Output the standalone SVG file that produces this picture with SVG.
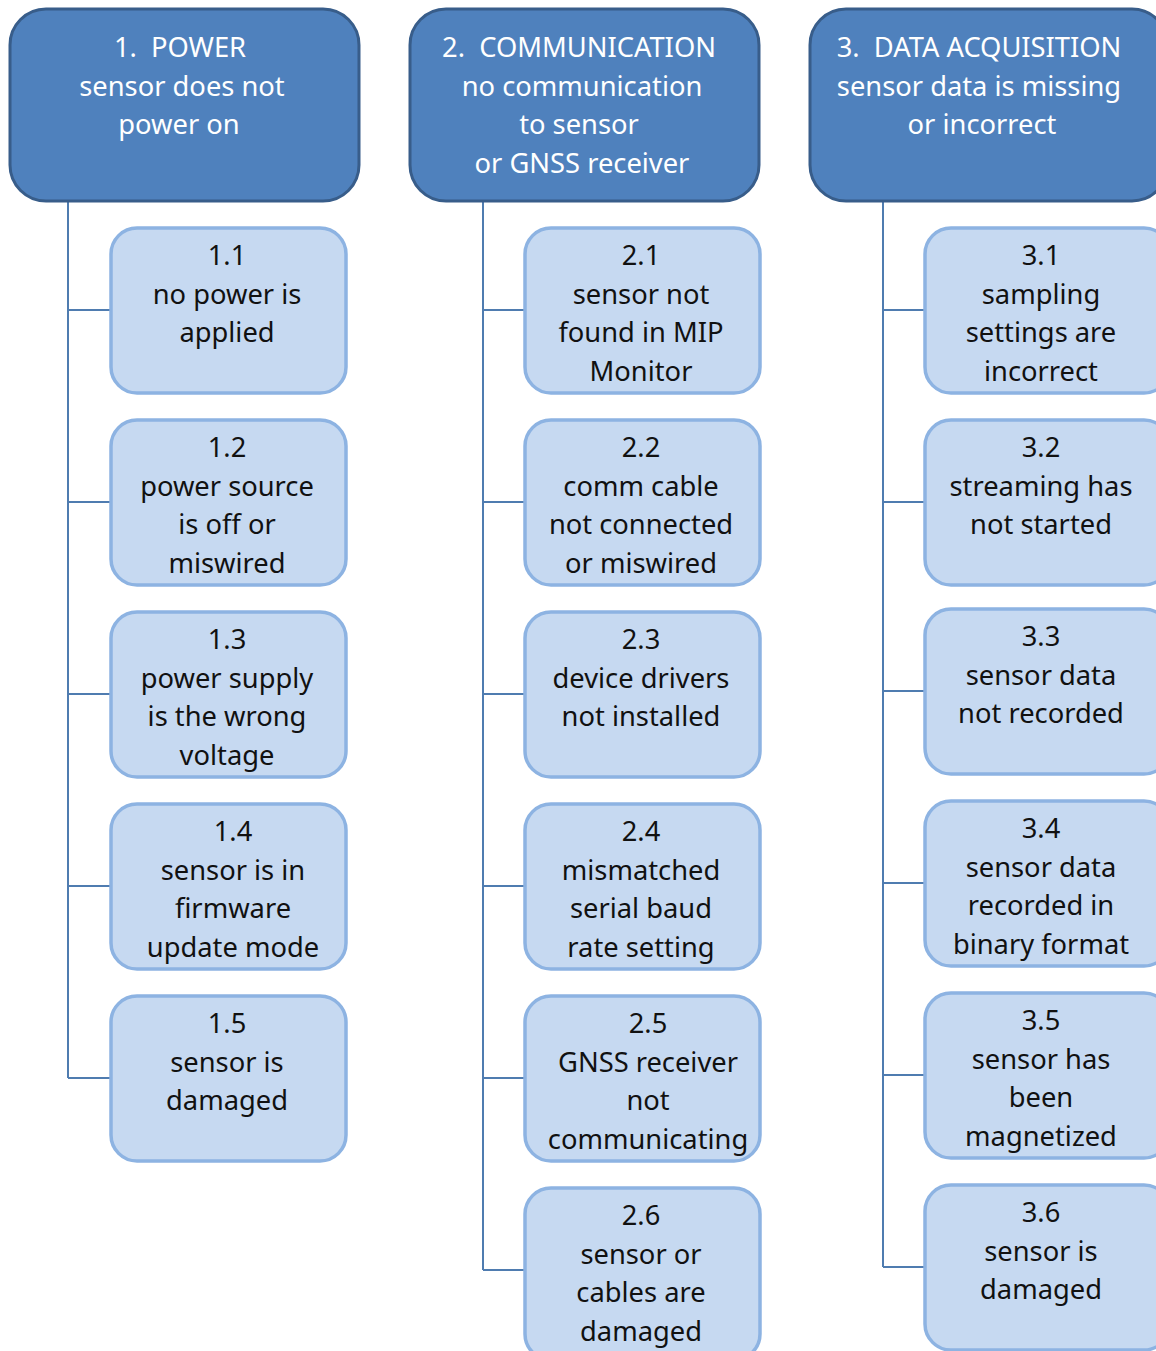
<svg xmlns="http://www.w3.org/2000/svg" width="1156" height="1351" viewBox="0 0 1156 1351">
<style>
.hdr{fill:#4F81BD;stroke:#385D8A;stroke-width:3}
.box{fill:#C6D9F1;stroke:#8DB3E2;stroke-width:3.5}
.ht{font-family:"Noto Sans","Open Sans",sans-serif;font-size:27.3px;fill:#FFFFFF;text-anchor:middle}
.bt{font-family:"Noto Sans","Open Sans",sans-serif;font-size:27.3px;fill:#111111;text-anchor:middle}
.con{fill:none;stroke:#4F7CB0;stroke-width:2}
</style>
<rect width="1156" height="1351" fill="#FFFFFF"/>
<g id="connectors">
<path class="con" d="M68 201V1078M68 310H111M68 502H111M68 694H111M68 886H111M68 1078H111"/>
<path class="con" d="M483 201V1270M483 310H525M483 502H525M483 694H525M483 886H525M483 1078H525M483 1270H525"/>
<path class="con" d="M883 201V1267M883 310H925M883 502H925M883 691H925M883 883H925M883 1075H925M883 1267H925"/>
</g>
<g id="h1"><rect class="hdr" x="10" y="9" width="349" height="192" rx="36"/>
<text class="ht"><tspan x="180" y="57">1.&#160; POWER</tspan><tspan x="182" y="96">sensor does not</tspan><tspan x="179" y="134">power on</tspan></text></g>
<g id="h2"><rect class="hdr" x="410" y="9" width="349" height="192" rx="36"/>
<text class="ht"><tspan x="579" y="57">2.&#160; COMMUNICATION</tspan><tspan x="582" y="96">no communication</tspan><tspan x="579" y="134">to sensor</tspan><tspan x="582" y="173">or GNSS receiver</tspan></text></g>
<g id="h3"><rect class="hdr" x="810" y="9" width="358" height="192" rx="36"/>
<text class="ht"><tspan x="979" y="57">3.&#160; DATA ACQUISITION</tspan><tspan x="979" y="96">sensor data is missing</tspan><tspan x="982" y="134">or incorrect</tspan></text></g>

<g id="n1_1"><rect class="box" x="111" y="228" width="235" height="165" rx="26"/>
<text class="bt"><tspan x="227" y="265">1.1</tspan><tspan x="227" y="304">no power is</tspan><tspan x="227" y="342">applied</tspan></text></g>
<g id="n1_2"><rect class="box" x="111" y="420" width="235" height="165" rx="26"/>
<text class="bt"><tspan x="227" y="457">1.2</tspan><tspan x="227" y="496">power source</tspan><tspan x="227" y="534">is off or</tspan><tspan x="227" y="573">miswired</tspan></text></g>
<g id="n1_3"><rect class="box" x="111" y="612" width="235" height="165" rx="26"/>
<text class="bt"><tspan x="227" y="649">1.3</tspan><tspan x="227" y="688">power supply</tspan><tspan x="227" y="726">is the wrong</tspan><tspan x="227" y="765">voltage</tspan></text></g>
<g id="n1_4"><rect class="box" x="111" y="804" width="235" height="165" rx="26"/>
<text class="bt"><tspan x="233" y="841">1.4</tspan><tspan x="233" y="880">sensor is in</tspan><tspan x="233" y="918">firmware</tspan><tspan x="233" y="957">update mode</tspan></text></g>
<g id="n1_5"><rect class="box" x="111" y="996" width="235" height="165" rx="26"/>
<text class="bt"><tspan x="227" y="1033">1.5</tspan><tspan x="227" y="1072">sensor is</tspan><tspan x="227" y="1110">damaged</tspan></text></g>

<g id="n2_1"><rect class="box" x="525" y="228" width="235" height="165" rx="26"/>
<text class="bt"><tspan x="641" y="265">2.1</tspan><tspan x="641" y="304">sensor not</tspan><tspan x="641" y="342">found in MIP</tspan><tspan x="641" y="381">Monitor</tspan></text></g>
<g id="n2_2"><rect class="box" x="525" y="420" width="235" height="165" rx="26"/>
<text class="bt"><tspan x="641" y="457">2.2</tspan><tspan x="641" y="496">comm cable</tspan><tspan x="641" y="534">not connected</tspan><tspan x="641" y="573">or miswired</tspan></text></g>
<g id="n2_3"><rect class="box" x="525" y="612" width="235" height="165" rx="26"/>
<text class="bt"><tspan x="641" y="649">2.3</tspan><tspan x="641" y="688">device drivers</tspan><tspan x="641" y="726">not installed</tspan></text></g>
<g id="n2_4"><rect class="box" x="525" y="804" width="235" height="165" rx="26"/>
<text class="bt"><tspan x="641" y="841">2.4</tspan><tspan x="641" y="880">mismatched</tspan><tspan x="641" y="918">serial baud</tspan><tspan x="641" y="957">rate setting</tspan></text></g>
<g id="n2_5"><rect class="box" x="525" y="996" width="235" height="165" rx="26"/>
<text class="bt"><tspan x="648" y="1033">2.5</tspan><tspan x="648" y="1072">GNSS receiver</tspan><tspan x="648" y="1110">not</tspan><tspan x="648" y="1149">communicating</tspan></text></g>
<g id="n2_6"><rect class="box" x="525" y="1188" width="235" height="172" rx="26"/>
<text class="bt"><tspan x="641" y="1225">2.6</tspan><tspan x="641" y="1264">sensor or</tspan><tspan x="641" y="1302">cables are</tspan><tspan x="641" y="1341">damaged</tspan></text></g>

<g id="n3_1"><rect class="box" x="925" y="228" width="245" height="165" rx="26"/>
<text class="bt"><tspan x="1041" y="265">3.1</tspan><tspan x="1041" y="304">sampling</tspan><tspan x="1041" y="342">settings are</tspan><tspan x="1041" y="381">incorrect</tspan></text></g>
<g id="n3_2"><rect class="box" x="925" y="420" width="245" height="165" rx="26"/>
<text class="bt"><tspan x="1041" y="457">3.2</tspan><tspan x="1041" y="496">streaming has</tspan><tspan x="1041" y="534">not started</tspan></text></g>
<g id="n3_3"><rect class="box" x="925" y="609" width="245" height="165" rx="26"/>
<text class="bt"><tspan x="1041" y="646">3.3</tspan><tspan x="1041" y="685">sensor data</tspan><tspan x="1041" y="723">not recorded</tspan></text></g>
<g id="n3_4"><rect class="box" x="925" y="801" width="245" height="165" rx="26"/>
<text class="bt"><tspan x="1041" y="838">3.4</tspan><tspan x="1041" y="877">sensor data</tspan><tspan x="1041" y="915">recorded in</tspan><tspan x="1041" y="954">binary format</tspan></text></g>
<g id="n3_5"><rect class="box" x="925" y="993" width="245" height="165" rx="26"/>
<text class="bt"><tspan x="1041" y="1030">3.5</tspan><tspan x="1041" y="1069">sensor has</tspan><tspan x="1041" y="1107">been</tspan><tspan x="1041" y="1146">magnetized</tspan></text></g>
<g id="n3_6"><rect class="box" x="925" y="1185" width="245" height="165" rx="26"/>
<text class="bt"><tspan x="1041" y="1222">3.6</tspan><tspan x="1041" y="1261">sensor is</tspan><tspan x="1041" y="1299">damaged</tspan></text></g>
</svg>
